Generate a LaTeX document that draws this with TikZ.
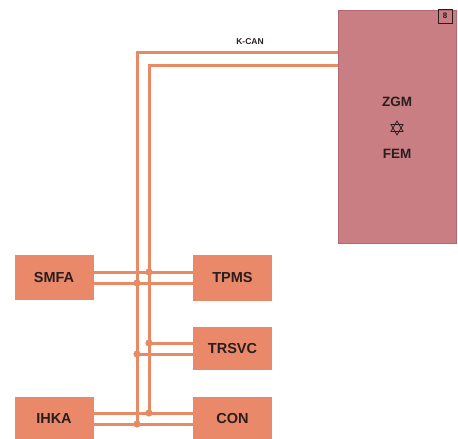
\documentclass[tikz,border=0pt]{standalone}
\usepackage{fontspec}
\setmainfont{Liberation Sans}
\definecolor{buswire}{RGB}{232,138,100}
\definecolor{ecufill}{RGB}{234,136,106}
\definecolor{zgmfill}{RGB}{201,126,131}
\definecolor{zgmline}{RGB}{180,104,110}
\definecolor{labeltext}{RGB}{40,30,30}
\tikzset{
    ecu/.style={fill=ecufill, minimum width=79pt, minimum height=45pt, inner sep=0pt,
        font=\fontsize{14.5}{16}\selectfont\bfseries, text=labeltext},
    wire/.style={draw=buswire, line width=3pt},
    joint/.style={fill=buswire}
}
\begin{document}
\begin{tikzpicture}[x=1pt, y=-1pt]
                \useasboundingbox (0,0) rectangle (458,439);
                \node [fill=zgmfill, draw=zgmline, line width=0.6pt, minimum width=118pt, minimum height=233pt] (ZGM) at (397,126.5){};
                \node [draw=labeltext, line width=0.8pt, minimum size=14pt, inner sep=0pt, font=\fontsize{8}{9}\selectfont\bfseries, text=labeltext] (sheet) at (445,16){8};
                \node [font=\fontsize{13.5}{15}\selectfont\bfseries, text=labeltext] (zgmname) at (397,102){ZGM};
                \node [font=\fontsize{13.5}{15}\selectfont\bfseries, text=labeltext] (femname) at (397,154){FEM};
                \draw [labeltext, line width=0.7pt, shift={(397,128)}] (0,-7) -- (6,3.5) -- (-6,3.5) -- cycle;
                \draw [labeltext, line width=0.7pt, shift={(397,128)}] (0,7) -- (6,-3.5) -- (-6,-3.5) -- cycle;
                \node [font=\fontsize{8.5}{10}\selectfont\bfseries, text=labeltext] (kcan) at (250,42){K-CAN};

                \node [ecu, minimum height=45pt] (SMFA) at (54,277.5){SMFA};
                \node [ecu, minimum height=46pt] (TPMS) at (232.5,278){TPMS};
                \node [ecu, minimum height=43pt] (TRSVC) at (232.5,348.5){TRSVC};
                \node [ecu, minimum height=44pt] (IHKA) at (54,419){IHKA};
                \node [ecu, minimum height=44pt] (CON) at (232.5,419){CON};

                \coordinate (outertop) at (137,52);
                \coordinate (innertop) at (149,65);
                \coordinate (j1) at (149,272);
                \coordinate (j2) at (137,283);
                \coordinate (j3) at (149,343);
                \coordinate (j4) at (137,354);
                \coordinate (j5) at (149,413);
                \coordinate (j6) at (137,424);

                \draw [wire] (ZGM.west |- outertop) -- (outertop) -- (j6);
                \draw [wire] (ZGM.west |- innertop) -- (innertop) -- (j5);
                \draw [wire] (SMFA.east |- j1) -- (TPMS.west |- j1);
                \draw [wire] (SMFA.east |- j2) -- (TPMS.west |- j2);
                \draw [wire] (j3) -- (TRSVC.west |- j3);
                \draw [wire] (j4) -- (TRSVC.west |- j4);
                \draw [wire] (IHKA.east |- j5) -- (CON.west |- j5);
                \draw [wire] (IHKA.east |- j6) -- (CON.west |- j6);
                \foreach \j in {j1,j2,j3,j4,j5,j6}
                    \fill [joint] (\j) circle (3.6pt);
            \end{tikzpicture}
\end{document}
